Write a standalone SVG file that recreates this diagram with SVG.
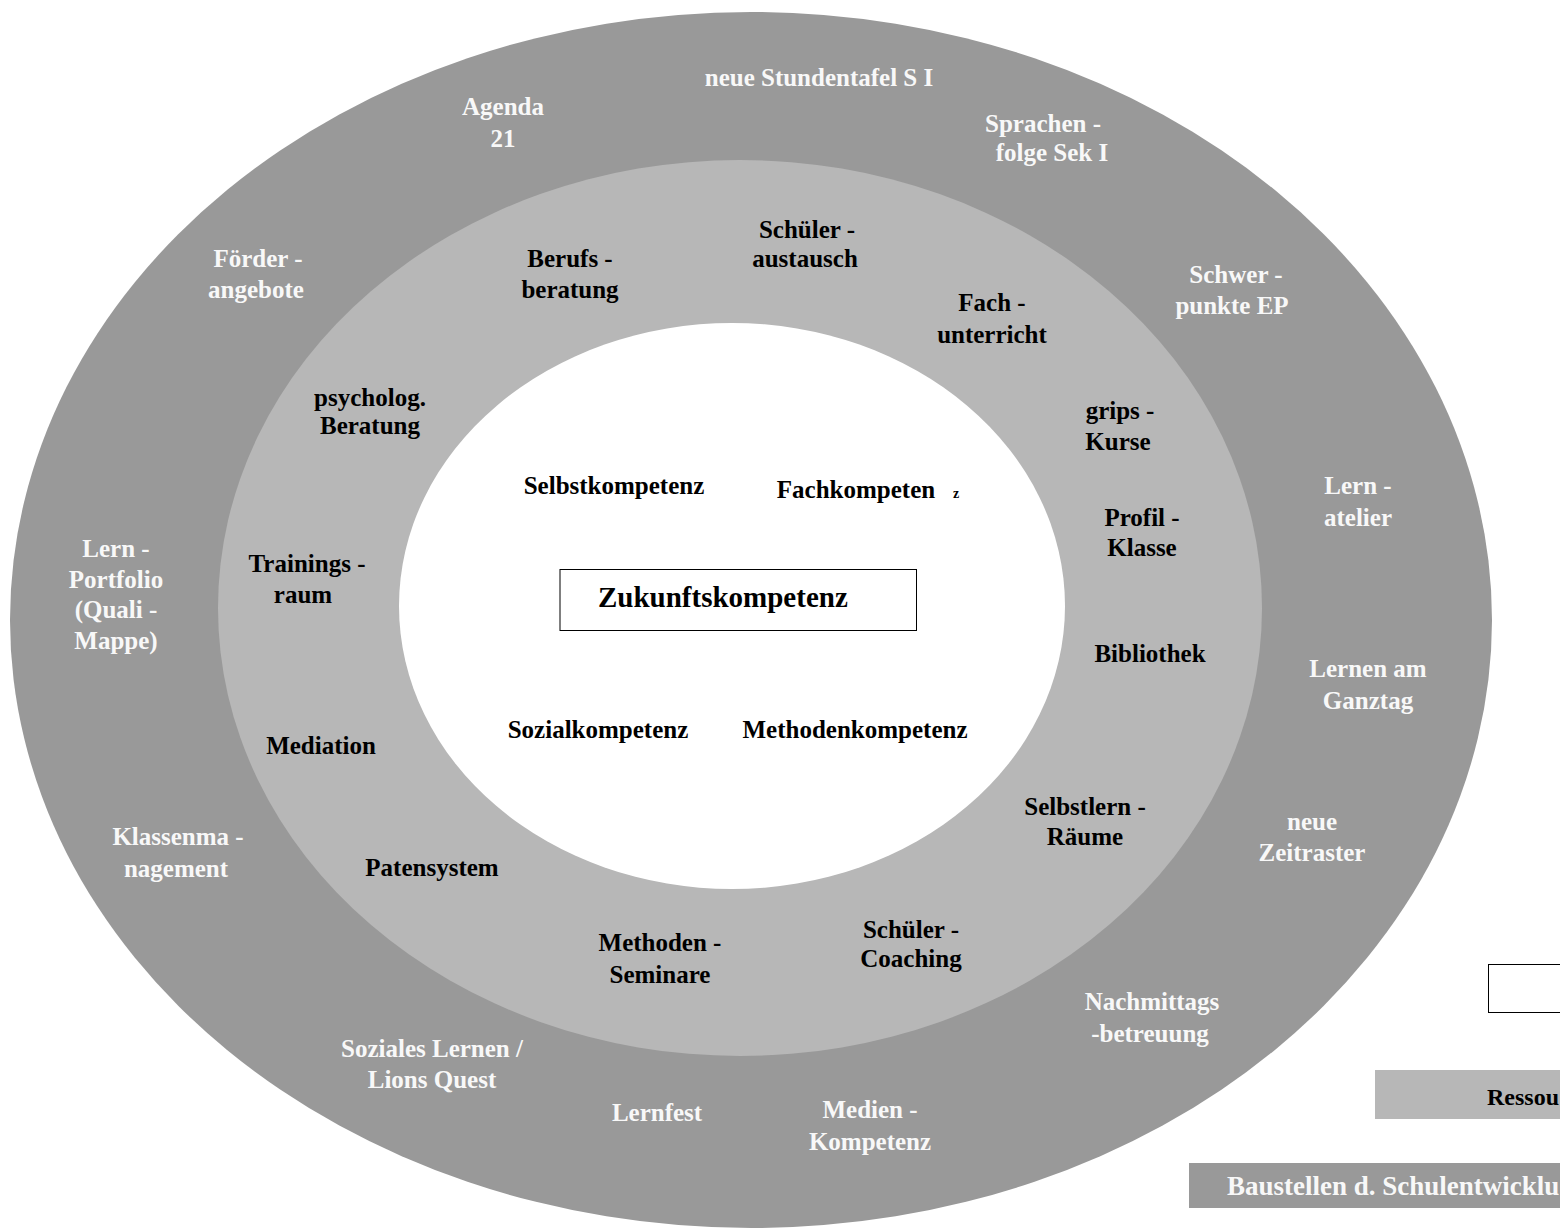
<svg xmlns="http://www.w3.org/2000/svg" width="1560" height="1230" viewBox="0 0 1560 1230">
  <style>
    text { font-family: "Liberation Serif", "Times New Roman", serif; font-weight: bold; font-size: 25px; text-anchor: middle; }
    .w { fill: #f8f8f8; }
    .k { fill: #000000; }
    .start { text-anchor: start; }
  </style>

  <!-- rings -->
  <g id="rings">
    <ellipse id="ring-outer" cx="751" cy="620" rx="741" ry="608" fill="#999999"/>
    <ellipse id="ring-middle" cx="740" cy="608" rx="522" ry="448" fill="#b7b7b7"/>
    <ellipse id="ring-inner" cx="732" cy="606" rx="333" ry="283" fill="#ffffff"/>
  </g>

  <!-- outer ring: Baustellen -->
  <g id="n-stundentafel"><text class="w" x="819" y="86">neue Stundentafel S I</text></g>
  <g id="n-agenda"><text class="w" x="503" y="115">Agenda</text><text class="w" x="503" y="147">21</text></g>
  <g id="n-sprachen"><text class="w" x="1043" y="132">Sprachen -</text><text class="w" x="1052" y="161">folge Sek I</text></g>
  <g id="n-foerder"><text class="w" x="258" y="267">Förder -</text><text class="w" x="256" y="298">angebote</text></g>
  <g id="n-schwerpunkte"><text class="w" x="1236" y="283">Schwer -</text><text class="w" x="1232" y="314">punkte EP</text></g>
  <g id="n-lernatelier"><text class="w" x="1358" y="494">Lern -</text><text class="w" x="1358" y="526">atelier</text></g>
  <g id="n-portfolio"><text class="w" x="116" y="557">Lern -</text><text class="w" x="116" y="588">Portfolio</text><text class="w" x="116" y="618">(Quali -</text><text class="w" x="116" y="649">Mappe)</text></g>
  <g id="n-ganztag"><text class="w" x="1368" y="677">Lernen am</text><text class="w" x="1368" y="709">Ganztag</text></g>
  <g id="n-klassenmanagement"><text class="w" x="178" y="845">Klassenma -</text><text class="w" x="176" y="877">nagement</text></g>
  <g id="n-zeitraster"><text class="w" x="1312" y="830">neue</text><text class="w" x="1312" y="861">Zeitraster</text></g>
  <g id="n-nachmittag"><text class="w" x="1152" y="1010">Nachmittags</text><text class="w" x="1150" y="1042">-betreuung</text></g>
  <g id="n-soziales"><text class="w" x="432" y="1057">Soziales Lernen /</text><text class="w" x="432" y="1088">Lions Quest</text></g>
  <g id="n-lernfest"><text class="w" x="657" y="1121">Lernfest</text></g>
  <g id="n-medien"><text class="w" x="870" y="1118">Medien -</text><text class="w" x="870" y="1150">Kompetenz</text></g>

  <!-- middle ring: Ressourcen -->
  <g id="n-berufsberatung"><text class="k" x="570" y="267">Berufs -</text><text class="k" x="570" y="298">beratung</text></g>
  <g id="n-austausch"><text class="k" x="807" y="238">Schüler -</text><text class="k" x="805" y="267">austausch</text></g>
  <g id="n-fachunterricht"><text class="k" x="992" y="311">Fach -</text><text class="k" x="992" y="343">unterricht</text></g>
  <g id="n-psycholog"><text class="k" x="370" y="406">psycholog.</text><text class="k" x="370" y="434">Beratung</text></g>
  <g id="n-grips"><text class="k" x="1120" y="419">grips -</text><text class="k" x="1118" y="450">Kurse</text></g>
  <g id="n-profil"><text class="k" x="1142" y="526">Profil -</text><text class="k" x="1142" y="556">Klasse</text></g>
  <g id="n-trainingsraum"><text class="k" x="307" y="572">Trainings -</text><text class="k" x="303" y="603">raum</text></g>
  <g id="n-bibliothek"><text class="k" x="1150" y="662">Bibliothek</text></g>
  <g id="n-mediation"><text class="k" x="321" y="754">Mediation</text></g>
  <g id="n-selbstlern"><text class="k" x="1085" y="815">Selbstlern -</text><text class="k" x="1085" y="845">Räume</text></g>
  <g id="n-patensystem"><text class="k" x="432" y="876">Patensystem</text></g>
  <g id="n-methodenseminare"><text class="k" x="660" y="951">Methoden -</text><text class="k" x="660" y="983">Seminare</text></g>
  <g id="n-coaching"><text class="k" x="911" y="938">Schüler -</text><text class="k" x="911" y="967">Coaching</text></g>

  <!-- inner field: Kompetenzen -->
  <g id="n-selbstkompetenz"><text class="k" x="614" y="494">Selbstkompetenz</text></g>
  <g id="n-fachkompetenz"><text class="k" x="856" y="498">Fachkompeten</text><text class="k" x="956" y="498" style="font-size:14px">z</text></g>
  <g id="n-sozialkompetenz"><text class="k" x="598" y="738">Sozialkompetenz</text></g>
  <g id="n-methodenkompetenz"><text class="k" x="855" y="738">Methodenkompetenz</text></g>
  <g id="n-zukunft">
    <rect x="560" y="569.5" width="356.5" height="61" fill="#ffffff" stroke="#000000" stroke-width="1"/>
    <text class="k start" x="598" y="607" style="font-size:29px">Zukunftskompetenz</text>
  </g>

  <!-- legend -->
  <g id="legend">
    <rect x="1488.5" y="964.5" width="80" height="48" fill="#ffffff" stroke="#000000" stroke-width="1"/>
    <rect x="1375" y="1070" width="190" height="49" fill="#b7b7b7"/>
    <text class="k start" x="1487" y="1105" style="font-size:24px">Ressou</text>
    <rect x="1189" y="1163" width="380" height="45" fill="#999999"/>
    <text class="w start" x="1227" y="1195" style="font-size:27px">Baustellen d. Schulentwicklu</text>
  </g>
</svg>
